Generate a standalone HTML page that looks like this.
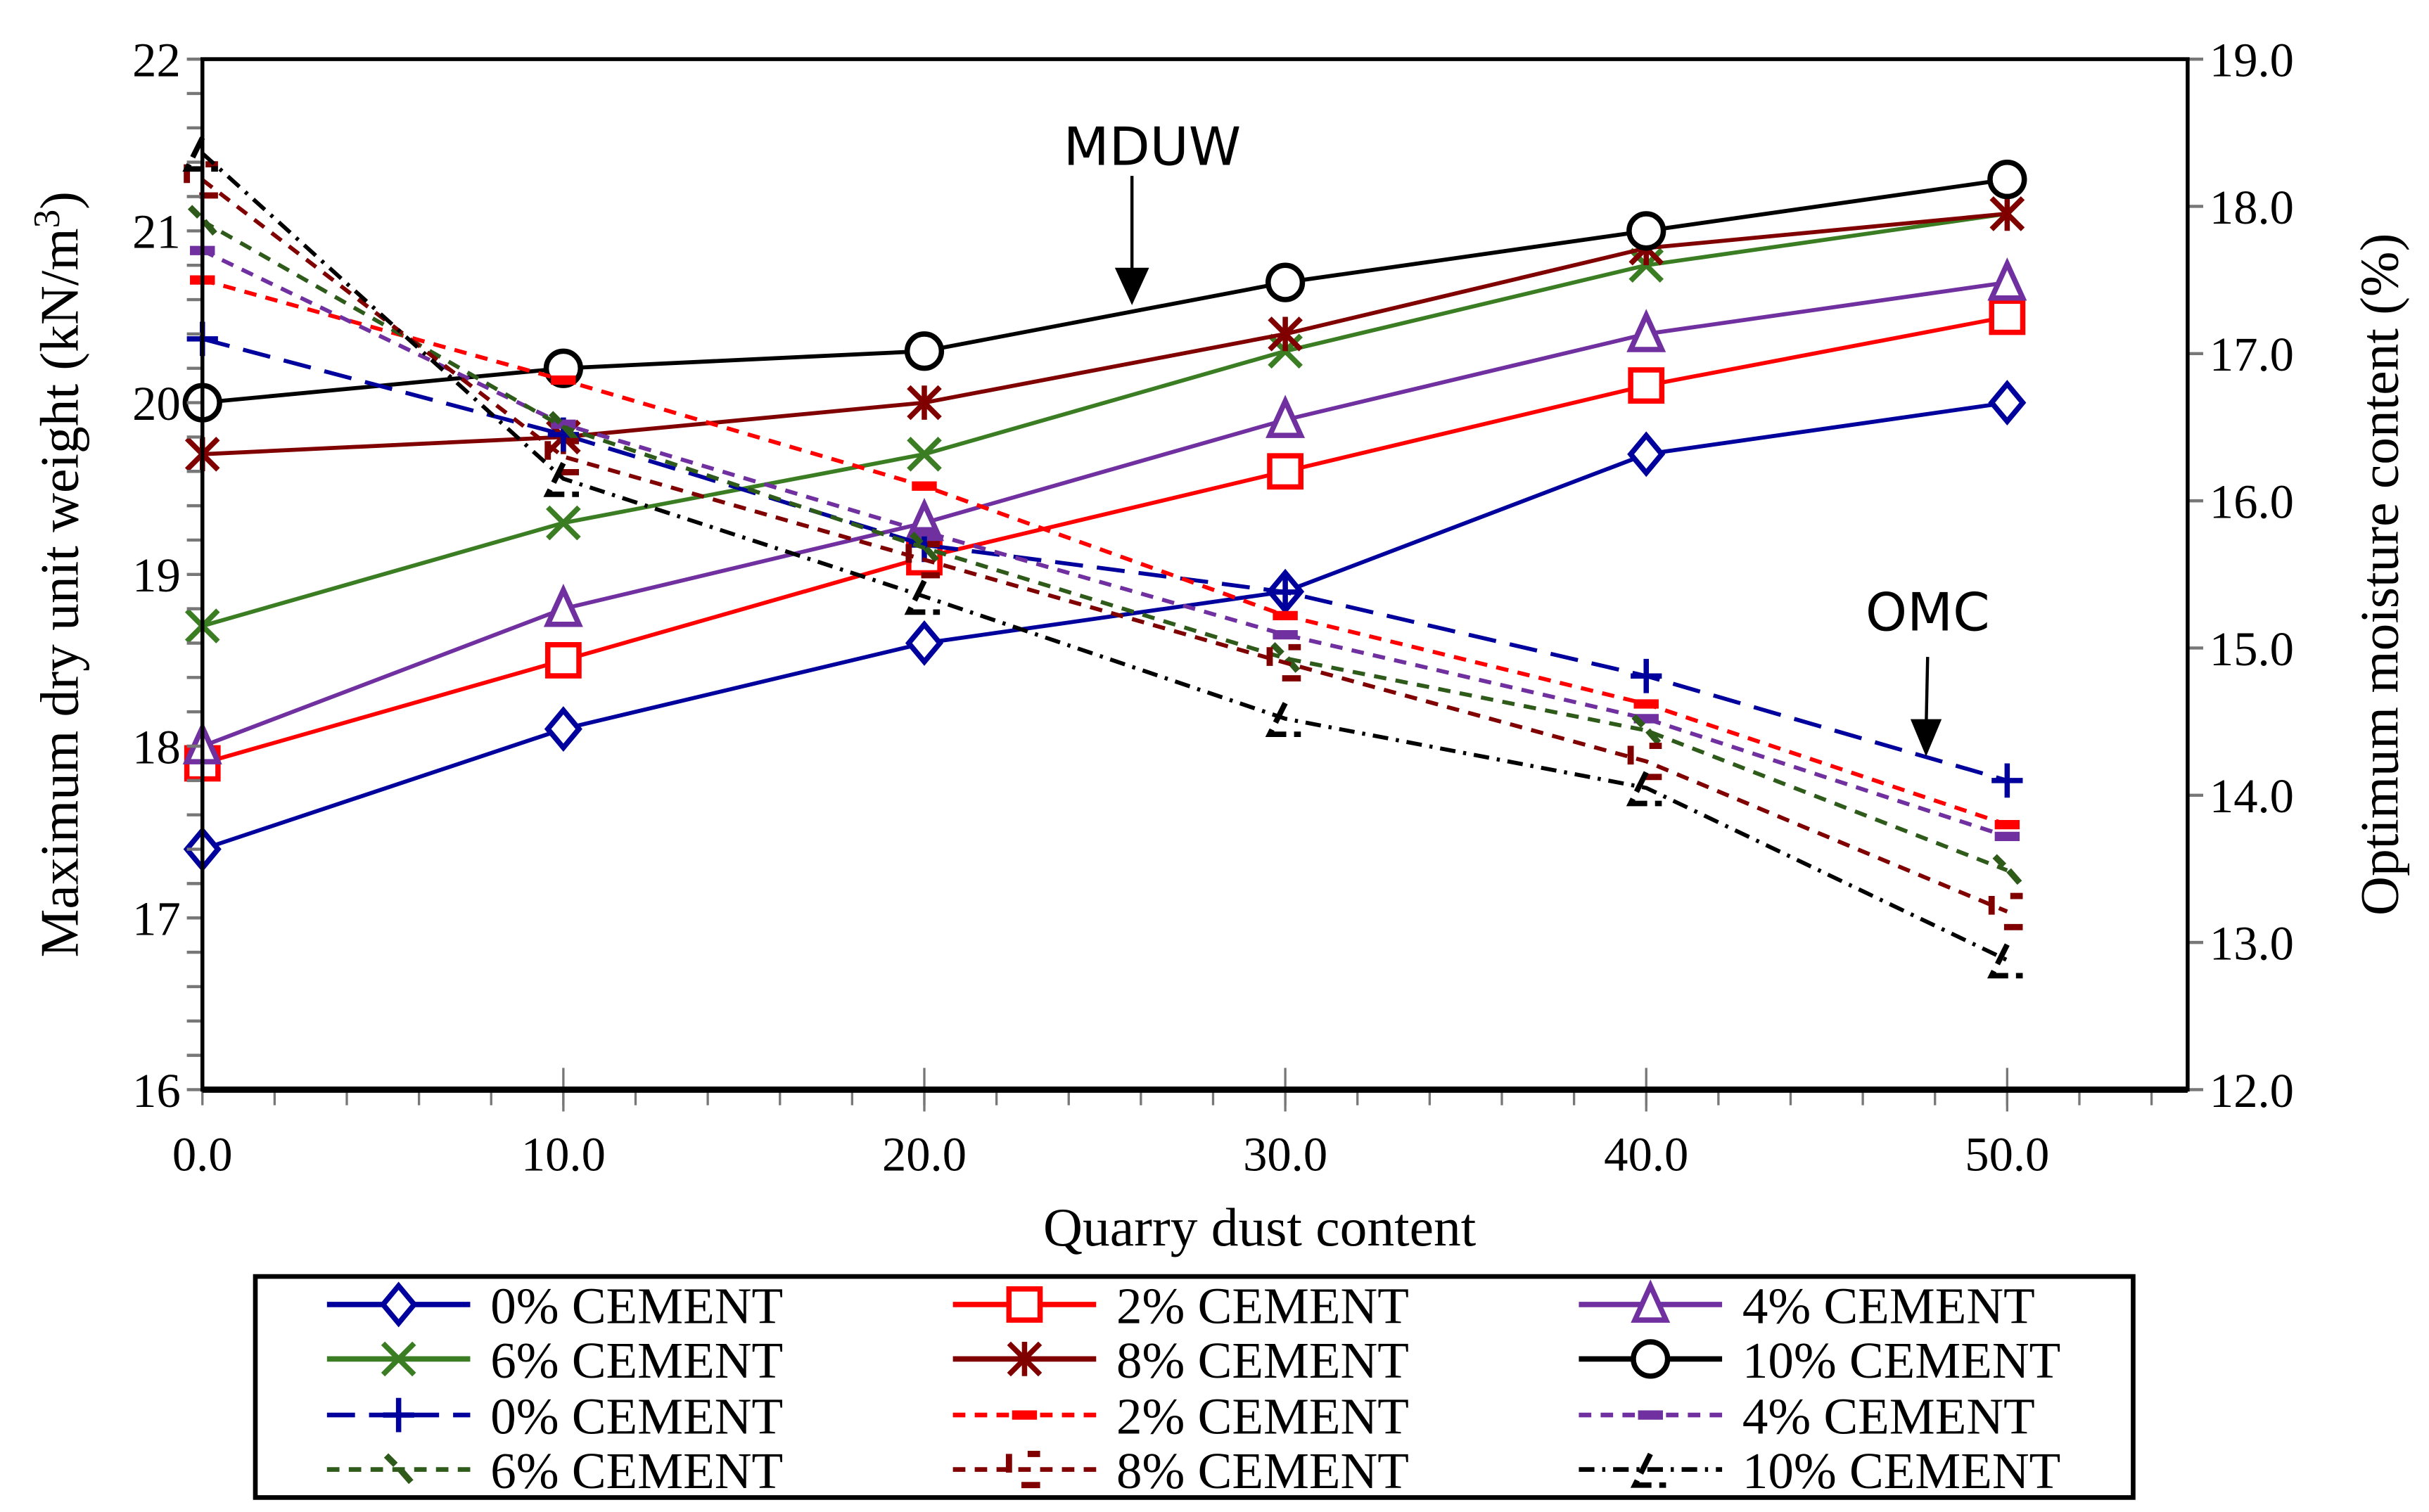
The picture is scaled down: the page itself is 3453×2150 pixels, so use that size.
<!DOCTYPE html>
<html><head><meta charset="utf-8"><style>
html,body{margin:0;padding:0;background:#fff}
svg{display:block}
text{font-family:"Liberation Serif",serif;fill:#000}
</style></head><body>
<svg id="chart" xmlns="http://www.w3.org/2000/svg" width="3453" height="2150" viewBox="0 0 1560 971.3" preserveAspectRatio="none">
<rect x="0" y="0" width="1560" height="971.3" fill="#fff"/>
<g id="grid"></g>
<g id="series"></g>
<g id="axes"></g>
<g id="legend"></g>
</svg>
<script>
const xCats=[0,10,20,30,40,50];
const xTickLabels=["0.0","10.0","20.0","30.0","40.0","50.0"];
const yLeftTicks=[16,17,18,19,20,21,22];
const yRightTicks=["12.0","13.0","14.0","15.0","16.0","17.0","18.0","19.0"];
const mduw0=[17.4,18.1,18.6,18.9,19.7,20.0];
const mduw2=[17.9,18.5,19.1,19.6,20.1,20.5];
const mduw4=[18.0,18.8,19.3,19.9,20.4,20.7];
const mduw6=[18.7,19.3,19.7,20.3,20.8,21.1];
const mduw8=[19.7,19.8,20.0,20.4,20.9,21.1];
const mduw10=[20.0,20.2,20.3,20.7,21.0,21.3];
const omc0=[17.10,16.45,15.70,15.38,14.81,14.10];
const omc2=[17.50,16.82,16.10,15.22,14.62,13.80];
const omc4=[17.70,16.52,15.79,15.09,14.52,13.72];
const omc6=[17.90,16.50,15.68,14.93,14.44,13.49];
const omc8=[18.18,16.30,15.60,14.90,14.23,13.21];
const omc10=[18.36,16.15,15.35,14.52,14.05,12.88];
const legendLabels=["0% CEMENT","2% CEMENT","4% CEMENT","6% CEMENT","8% CEMENT","10% CEMENT"];

const NS="http://www.w3.org/2000/svg";
const X0=130,X1=1405,YT=38,YB=700;
const xs=v=>X0+(v/55)*(X1-X0);
const yl=v=>YB-(v-16)/6*(YB-YT);
const yr=v=>YB-(v-12)/7*(YB-YT);
function el(tag,attrs,parent){const e=document.createElementNS(NS,tag);for(const k in attrs)e.setAttribute(k,attrs[k]);parent.appendChild(e);return e;}
const axes=document.getElementById('axes'),series=document.getElementById('series'),legend=document.getElementById('legend');

for(let v=0;v<=55;v+=2){const t=el('line',{x1:xs(v),x2:xs(v),y1:YB,y2:YB+10,stroke:'#777','stroke-width':1.5},axes);}
for(let v=10;v<=50;v+=10){const t=el('line',{x1:xs(v),x2:xs(v),y1:YB-14,y2:YB+14,stroke:'#777','stroke-width':1.5},axes);}
for(let v=16;v<=22.001;v+=0.2){const t=el('line',{x1:X0-10,x2:X0,y1:yl(v),y2:yl(v),stroke:'#777','stroke-width':2},axes);}
for(let v=12;v<=19;v+=1){const t=el('line',{x1:X1,x2:X1+10,y1:yr(v),y2:yr(v),stroke:'#777','stroke-width':2},axes);}
const frame=el('rect',{x:X0,y:YT,width:X1-X0,height:YB-YT,fill:'none',stroke:'#000','stroke-width':2.5},axes);

el('line',{x1:X0,x2:X1,y1:YB,y2:YB,stroke:'#000','stroke-width':4},axes);

xTickLabels.forEach((s,i)=>{const t=el('text',{x:xs(xCats[i]),y:YB+52,'font-size':31,'text-anchor':'middle'},axes);t.textContent=s;});
yLeftTicks.forEach(v=>{const t=el('text',{x:X0-14,y:yl(v)+11,'font-size':31,'text-anchor':'end'},axes);t.textContent=v;});
yRightTicks.forEach((s,i)=>{const t=el('text',{x:X1+14,y:yr(12+i)+11,'font-size':31,'text-anchor':'start'},axes);t.textContent=s;});

let t=el('text',{x:809,y:800,'font-size':35,'text-anchor':'middle'},axes);t.textContent='Quarry dust content';

t=el('text',{x:0,y:0,'font-size':35,'text-anchor':'middle',transform:'translate(50,369) rotate(-90)'},axes);
t.innerHTML='Maximum dry unit weight (kN/m<tspan dy="-12" font-size="24">3</tspan><tspan dy="12">)</tspan>';

t=el('text',{x:0,y:0,'font-size':35,'text-anchor':'middle',transform:'translate(1540,369) rotate(-90)'},axes);
t.textContent='Optimum moisture content (%)';


t=el('text',{x:740,y:106,'font-size':34,'text-anchor':'middle',style:'font-family:"DejaVu Sans","Liberation Sans",sans-serif'},axes);t.textContent='MDUW';

el('line',{x1:727,x2:727,y1:113,y2:180,stroke:'#000','stroke-width':2},axes);
el('path',{d:'M716,172 L738,172 L727,196 Z',fill:'#000'},axes);
t=el('text',{x:1238,y:405,'font-size':34,'text-anchor':'middle',style:'font-family:"DejaVu Sans","Liberation Sans",sans-serif'},axes);t.textContent='OMC';

el('line',{x1:1238,x2:1237,y1:422,y2:470,stroke:'#000','stroke-width':2},axes);
el('path',{d:'M1227,462 L1247,462 L1237,486 Z',fill:'#000'},axes);

function marker(g,type,cx,cy,col){
  const s=10,w=3.4;
  if(type==='diamond')el('path',{d:`M${cx},${cy-s-2}L${cx+s},${cy}L${cx},${cy+s+2}L${cx-s},${cy}Z`,fill:'#fff',stroke:col,'stroke-width':w},g);
  else if(type==='square')el('rect',{x:cx-s,y:cy-s,width:2*s,height:2*s,fill:'#fff',stroke:col,'stroke-width':w},g);
  else if(type==='triangle')el('path',{d:`M${cx},${cy-s-2}L${cx+s},${cy+s}L${cx-s},${cy+s}Z`,fill:'#fff',stroke:col,'stroke-width':w},g);
  else if(type==='circle')el('circle',{cx:cx,cy:cy,r:s+1,fill:'#fff',stroke:col,'stroke-width':w},g);
  else if(type==='x')el('path',{d:`M${cx-s},${cy-s}L${cx+s},${cy+s}M${cx+s},${cy-s}L${cx-s},${cy+s}`,stroke:col,'stroke-width':w},g);
  else if(type==='star')el('path',{d:`M${cx-s},${cy-s}L${cx+s},${cy+s}M${cx+s},${cy-s}L${cx-s},${cy+s}M${cx},${cy-s-1}L${cx},${cy+s+1}`,stroke:col,'stroke-width':w},g);
  else if(type==='plus')el('path',{d:`M${cx-s},${cy}L${cx+s},${cy}M${cx},${cy-s-1}L${cx},${cy+s+1}`,stroke:col,'stroke-width':w},g);
  else if(type==='dash')el('path',{d:`M${cx-8},${cy}L${cx+8},${cy}`,stroke:col,'stroke-width':6},g);
  else if(type==='check')el('path',{d:`M${cx-8},${cy-9}L${cx-2},${cy-3}M${cx+1},${cy}L${cx+8},${cy+8}`,stroke:col,'stroke-width':4},g);
  else if(type==='bsquare')el('path',{d:`M${cx-s},${cy-s}L${cx-s},${cy+2}M${cx-2},${cy+s}L${cx+s},${cy+s}M${cx+s},${cy-s}L${cx+2},${cy-s}`,fill:'none',stroke:col,'stroke-width':4},g);
  else if(type==='btri')el('path',{d:`M${cx},${cy-s}L${cx-s},${cy+s}L${cx+s},${cy+s}`,fill:'none',stroke:col,'stroke-width':3.5,'stroke-dasharray':'14,5'},g);
}
const defs=[
 {vals:mduw0,ax:yl,col:'#00009C',m:'diamond',dash:'',name:'mduw-0-cement'},
 {vals:mduw2,ax:yl,col:'#FF0000',m:'square',dash:'',name:'mduw-2-cement'},
 {vals:mduw4,ax:yl,col:'#7030A0',m:'triangle',dash:'',name:'mduw-4-cement'},
 {vals:mduw6,ax:yl,col:'#3A7D22',m:'x',dash:'',name:'mduw-6-cement'},
 {vals:mduw8,ax:yl,col:'#800000',m:'star',dash:'',name:'mduw-8-cement'},
 {vals:mduw10,ax:yl,col:'#000000',m:'circle',dash:'',name:'mduw-10-cement'},
 {vals:omc0,ax:yr,col:'#00009C',m:'plus',dash:'18,9',name:'omc-0-cement'},
 {vals:omc2,ax:yr,col:'#FF0000',m:'dash',dash:'8,6',name:'omc-2-cement'},
 {vals:omc4,ax:yr,col:'#7030A0',m:'dash',dash:'8,6',name:'omc-4-cement'},
 {vals:omc6,ax:yr,col:'#2E5A1A',m:'check',dash:'8,6',name:'omc-6-cement'},
 {vals:omc8,ax:yr,col:'#800000',m:'bsquare',dash:'8,6',name:'omc-8-cement'},
 {vals:omc10,ax:yr,col:'#000000',m:'btri',dash:'10,5,2,5',name:'omc-10-cement'}
];
defs.forEach(d=>{
  const g=el('g',{},series);
  
  
  const pts=d.vals.map((v,i)=>xs(xCats[i])+','+d.ax(v)).join(' ');
  const attrs={points:pts,fill:'none',stroke:d.col,'stroke-width':2.6};
  if(d.dash)attrs['stroke-dasharray']=d.dash;
  const pl=el('polyline',attrs,g);
  
  
  d.vals.forEach((v,i)=>marker(g,d.m,xs(xCats[i]),d.ax(v),d.col));
});

const lb=el('rect',{x:164,y:820,width:1206,height:142,fill:'#fff',stroke:'#000','stroke-width':3},legend);

const colX=[210,612,1014],rowY=[838,873,909,944];
defs.forEach((d,i)=>{
  const r=Math.floor(i/3),c=i%3;
  const g=el('g',{},legend);
  
  
  const la={x1:colX[c],x2:colX[c]+92,y1:rowY[r],y2:rowY[r],stroke:d.col,'stroke-width':d.dash?3:3.5};
  if(d.dash)la['stroke-dasharray']=d.dash;
  el('line',la,g);
  marker(g,d.m,colX[c]+46,rowY[r],d.col);
  const tx=el('text',{x:colX[c]+105,y:rowY[r]+12,'font-size':33},g);
  tx.textContent=legendLabels[i%6];
});
</script>
</body></html>
